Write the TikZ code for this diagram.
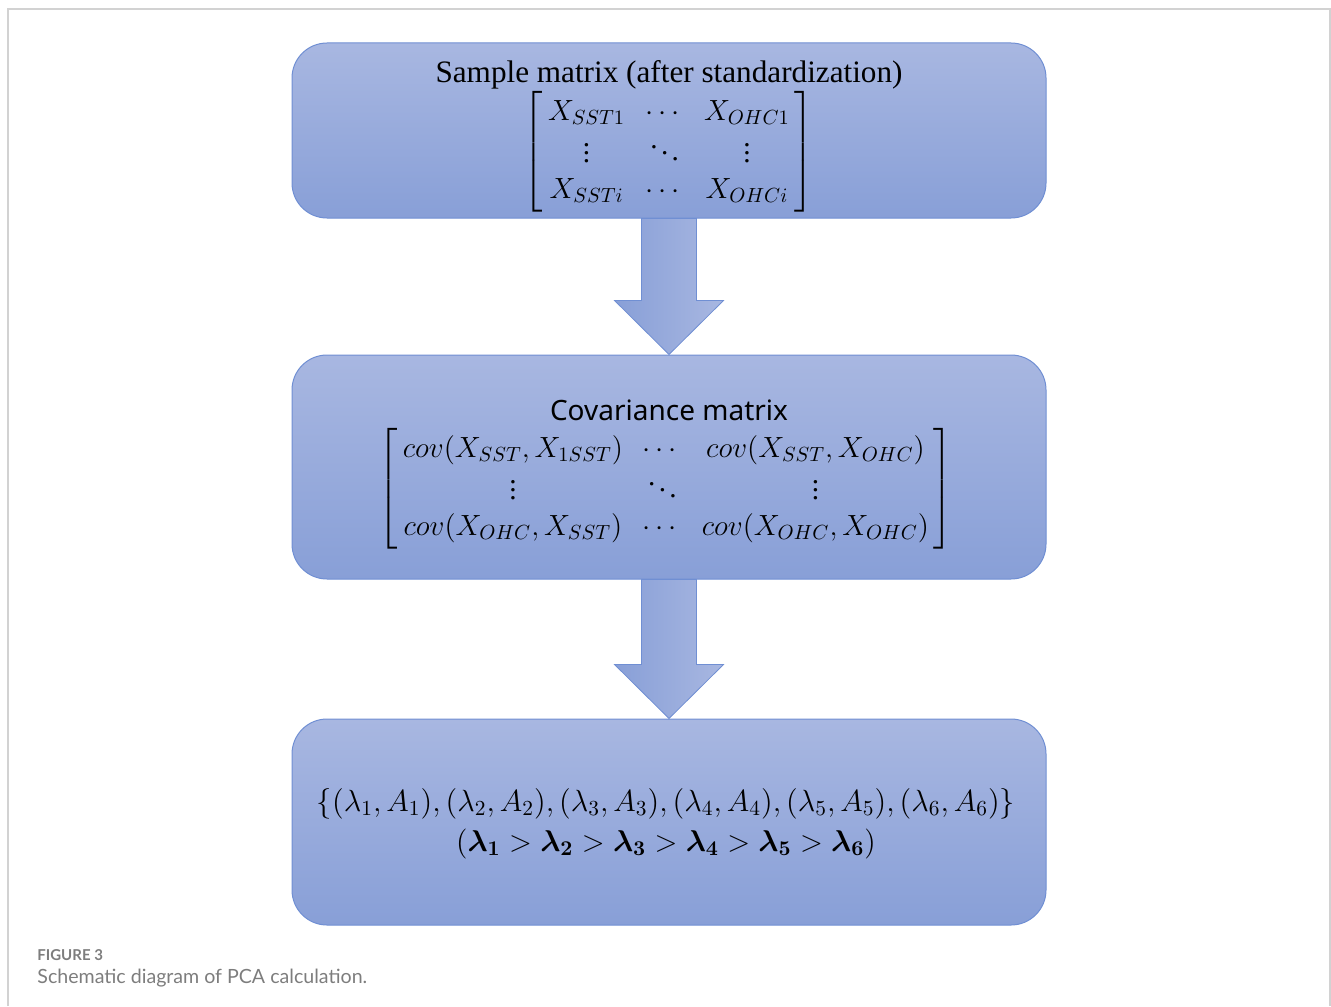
\RequirePackage{fix-cm}
\documentclass[tikz,border=0pt]{standalone}
\usepackage{amsmath}
\usepackage{bm}
\usepackage{fontspec}
\setmainfont{Liberation Serif}
\newfontfamily\covfont{Noto Sans}
\newfontfamily\capfont{Lato}
\usetikzlibrary{calc}

\definecolor{boxtop}{RGB}{168,183,225}
\definecolor{boxbot}{RGB}{136,159,215}
\definecolor{boxline}{RGB}{112,143,211}
\definecolor{arrleft}{RGB}{136,159,215}
\definecolor{arrright}{RGB}{168,183,225}
\definecolor{framegray}{RGB}{210,210,210}
\definecolor{capgray}{RGB}{125,125,125}

% matrix with a little room inside the brackets
\newcommand{\bmat}[1]{\left[\,\begin{matrix}#1\end{matrix}\,\right]}

\tikzset{
  stagebox/.style={draw=boxline, line width=0.5pt, rounded corners=17.5pt,
    top color=boxtop, bottom color=boxbot, minimum width=377pt, inner sep=0pt},
  boxtitle/.style={anchor=base, inner sep=0pt},
  boxmath/.style={inner sep=0pt, align=center, font=\fontsize{14.6}{18}\selectfont},
  blockarrow/.style={draw=boxline, line width=0.4pt, left color=arrleft, right color=arrright},
  captext/.style={anchor=base west, inner sep=0pt, text=capgray}
}

\begin{document}
\begin{tikzpicture}[x=0.5pt,y=-0.5pt]
\useasboundingbox (0,0) rectangle (1331,1006);

%Frame
\draw[framegray, line width=0.8pt] (8,1006) -- (8,9) -- (1330,9) -- (1330,1006);

%Box: sample matrix
\node[stagebox, minimum height=87.5pt] (sample) at (669,130.5) {};
\node[boxtitle, font=\fontsize{15.6}{18}\selectfont] (sampletitle) at (669,83) {Sample matrix (after standardization)};
\node[boxmath] (samplemat) at (669,152)
  {$\bmat{X_{SST1} & \cdots & X_{OHC1}\\ \vdots & \ddots & \vdots\\ X_{SSTi} & \cdots & X_{OHCi}}$};

%Box: covariance matrix
\node[stagebox, minimum height=112pt] (cov) at (669,467) {};
\node[boxtitle, font=\covfont\fontsize{14}{16}\selectfont] (covtitle) at (669,420) {Covariance matrix};
\node[boxmath] (covmat) at (666,489)
  {$\bmat{cov(X_{SST},X_{1SST}) & \cdots & cov(X_{SST},X_{OHC})\\ \vdots & \ddots & \vdots\\ cov(X_{OHC},X_{SST}) & \cdots & cov(X_{OHC},X_{OHC})}$};

%Box: eigen pairs
\node[stagebox, minimum height=103pt] (eigen) at (669,822) {};
\node[boxmath, font=\fontsize{15}{18}\selectfont] (eigentext) at (666,823.5)
  {{\fontsize{15.3}{18}\selectfont$\{(\lambda_1,A_1),(\lambda_2,A_2),(\lambda_3,A_3),(\lambda_4,A_4),(\lambda_5,A_5),(\lambda_6,A_6)\}$}\\[2pt]
   $(\bm{\lambda_1}>\bm{\lambda_2}>\bm{\lambda_3}>\bm{\lambda_4}>\bm{\lambda_5}>\bm{\lambda_6})$};

%Block arrows
\draw[blockarrow] ($(sample.south)+(-27.5,0)$) -- ($(sample.south)+(27.5,0)$)
  -- ($(cov.north)+(27.5,-54)$) -- ($(cov.north)+(54.5,-54)$) -- (cov.north)
  -- ($(cov.north)+(-54.5,-54)$) -- ($(cov.north)+(-27.5,-54)$) -- cycle;
\draw[blockarrow] ($(cov.south)+(-27.5,0)$) -- ($(cov.south)+(27.5,0)$)
  -- ($(eigen.north)+(27.5,-54)$) -- ($(eigen.north)+(54.5,-54)$) -- (eigen.north)
  -- ($(eigen.north)+(-54.5,-54)$) -- ($(eigen.north)+(-27.5,-54)$) -- cycle;

%Caption
\node[captext, font=\capfont\bfseries\fontsize{7.5}{9}\selectfont] (fignum) at (37,960) {FIGURE 3};
\node[captext, font=\capfont\fontsize{9.8}{11}\selectfont] (figcap) at (37,983) {Schematic diagram of PCA calculation.};
\end{tikzpicture}
\end{document}
